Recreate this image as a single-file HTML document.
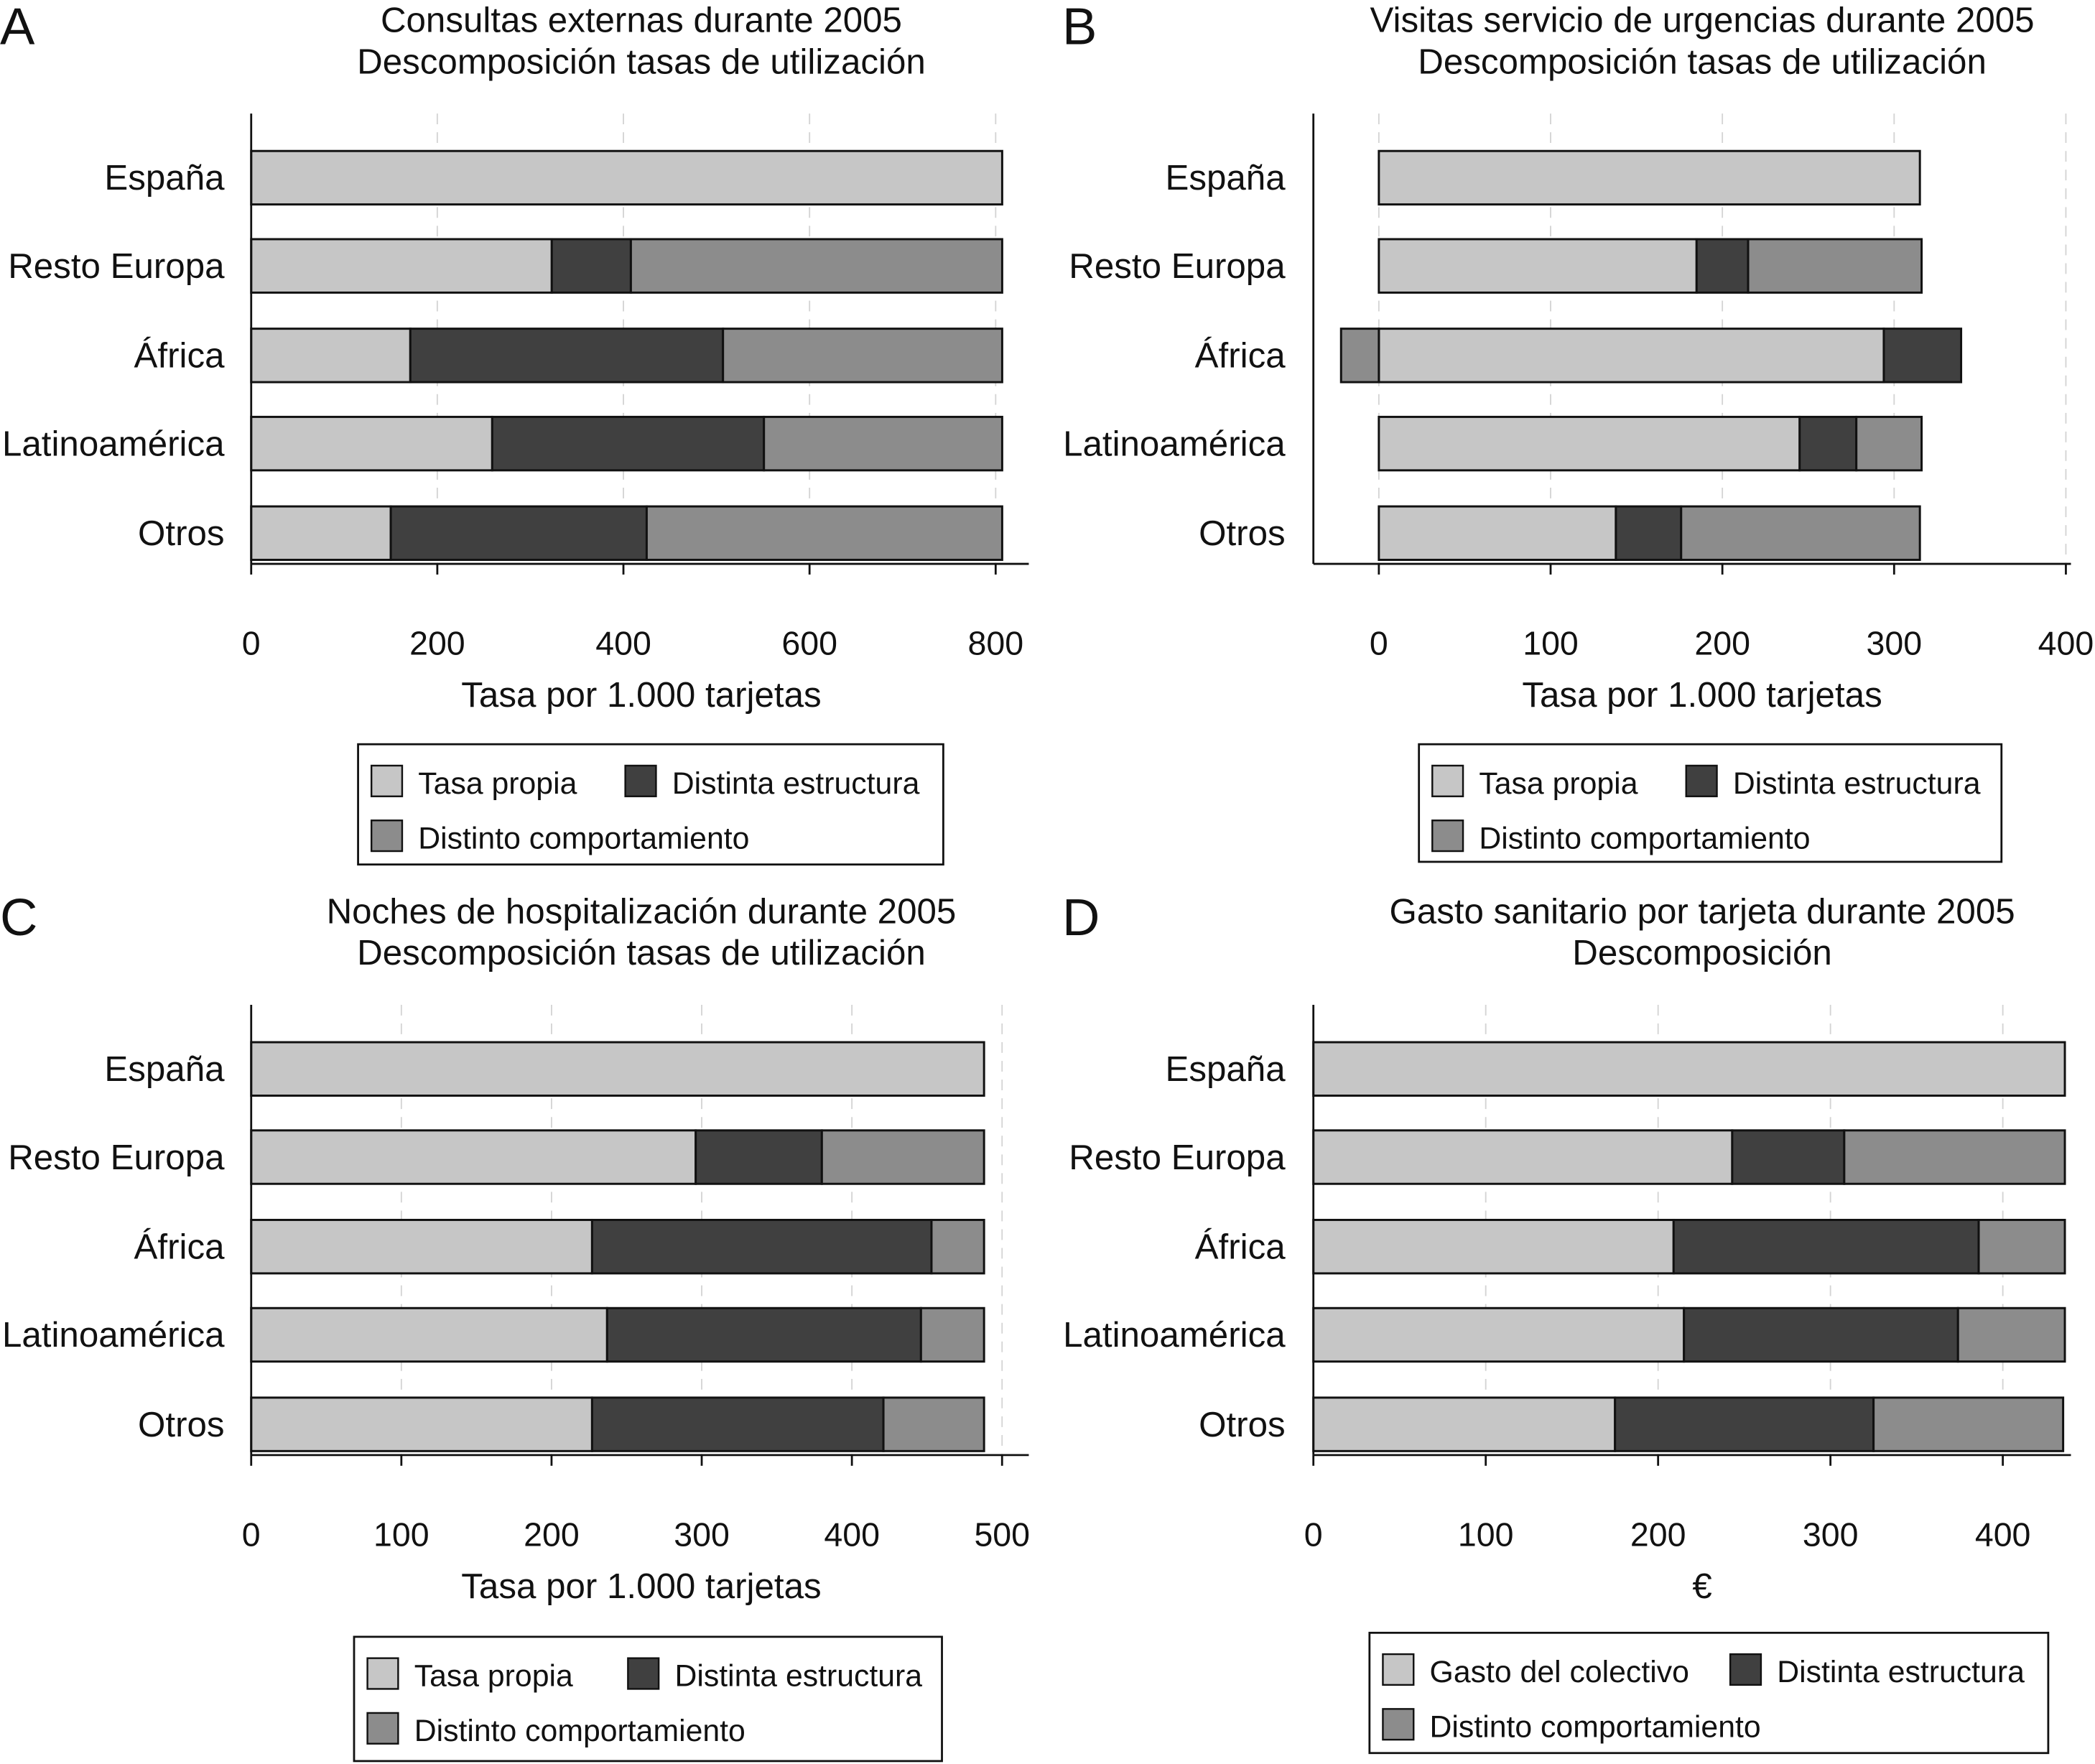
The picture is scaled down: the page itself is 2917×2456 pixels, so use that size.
<!DOCTYPE html>
<html><head><meta charset="utf-8"><style>
html,body{margin:0;padding:0;background:#fff}
svg{display:block}
text{font-family:"Liberation Sans",Arial,sans-serif;fill:#111}
</style></head><body>
<svg id="chart" width="2917" height="2456" viewBox="0 0 1568 1320.2" preserveAspectRatio="none" xmlns="http://www.w3.org/2000/svg"></svg>
<script>
const categories = ["España","Resto Europa","África","Latinoamérica","Otros"];
const seriesColors = ["#c6c6c6","#404040","#8c8c8c"];
// Panel A
const aPropia = [807,323,171,259,150];
const aEstructura = [0,85,336,292,275];
const aComport = [0,399,300,256,382];
const aTicks = [0,200,400,600,800];
// Panel B
const bPropia = [315,185,294,245,138];
const bEstructura = [0,30,45,33,38];
const bComport = [0,101,-22,38,139];
const bTicks = [0,100,200,300,400];
// Panel C
const cPropia = [488,296,227,237,227];
const cEstructura = [0,84,226,209,194];
const cComport = [0,108,35,42,67];
const cTicks = [0,100,200,300,400,500];
// Panel D
const dPropia = [436,243,209,215,175];
const dEstructura = [0,65,177,159,150];
const dComport = [0,128,50,62,110];
const dTicks = [0,100,200,300,400];

const NS="http://www.w3.org/2000/svg";
const svg=document.getElementById('chart');
function mk(tag,attrs,parent,txt){const e=document.createElementNS(NS,tag);for(const k in attrs)e.setAttribute(k,attrs[k]);if(txt!==undefined)e.textContent=txt;(parent||svg).appendChild(e);return e;}

function panel(cfg){
  const g=mk('g',{});
  
  
  const sx=v=>cfg.x0+(v-cfg.t0)*cfg.k;
  const T=cfg.top;
  const axisTop=T+85, axisBot=T+422;
  const centers=[133,199,266,332,399].map(c=>c+T);
  const L=mk('text',{x:cfg.letterX,y:T+33,'font-size':39},g,cfg.letter);
  
  
  cfg.title.forEach((t,i)=>{const e=mk('text',{x:cfg.titleX,y:T+24+i*31,'font-size':26.5,'text-anchor':'middle'},g,t);
    
    });
  cfg.ticks.forEach(t=>{const gl=mk('line',{x1:sx(t),x2:sx(t),y1:axisTop,y2:axisBot,stroke:'#d4d4d4','stroke-width':1,'stroke-dasharray':'8,6'},g);
    
    });
  const series=[cfg.p,cfg.e,cfg.c];
  categories.forEach((cat,i)=>{
    let pos=0,neg=0;
    series.forEach((arr,s)=>{
      const v=arr[i]; if(!v) return;
      let a,b; if(v>=0){a=pos;b=pos+v;pos=b;}else{a=neg+v;b=neg;neg=a;}
      const r=mk('rect',{x:sx(a),y:centers[i]-20,width:sx(b)-sx(a),height:40,fill:seriesColors[s],stroke:'#111','stroke-width':1.6},g);
      
      
    });
    const lb=mk('text',{x:168+cfg.labOff,y:centers[i]+9,'font-size':26.5,'text-anchor':'end'},g,cat);
    
    
  });
  const ya=mk('line',{x1:cfg.axisX,x2:cfg.axisX,y1:axisTop,y2:axisBot,stroke:'#111','stroke-width':1.5},g);
  
  
  const xa=mk('line',{x1:cfg.axisX,x2:cfg.axisEnd,y1:axisBot,y2:axisBot,stroke:'#111','stroke-width':1.5},g);
  
  
  cfg.ticks.forEach(t=>{
    mk('line',{x1:sx(t),x2:sx(t),y1:axisBot,y2:axisBot+8,stroke:'#111','stroke-width':1.5},g);
    const tl=mk('text',{x:sx(t),y:T+490,'font-size':25,'text-anchor':'middle'},g,t);
    
    
  });
  const xt=mk('text',{x:cfg.titleX,y:T+529,'font-size':26.5,'text-anchor':'middle'},g,cfg.xtitle);
  
  
  const lg=cfg.leg;
  const lgG=mk('g',{},g);
  
  
  mk('rect',{x:lg.x,y:T+lg.y,width:lg.w,height:lg.h,fill:'#fff',stroke:'#111','stroke-width':1.5},lgG);
  const items=[[lg.x+10,T+lg.y+16,cfg.names[0]],[lg.x+200+lg.dx,T+lg.y+16,cfg.names[1]],[lg.x+10,T+lg.y+57,cfg.names[2]]];
  items.forEach((it,s)=>{
    const sw=mk('rect',{x:it[0],y:it[1],width:23,height:23,fill:seriesColors[s],stroke:'#111','stroke-width':1.3},lgG);
    
    
    const tx=mk('text',{x:it[0]+35,y:it[1]+21,'font-size':23},lgG,it[2]);
    
    
  });
}
const n1=["Tasa propia","Distinta estructura","Distinto comportamiento"];
panel({letter:"A",letterX:0,top:0,titleX:480,x0:188,t0:0,k:0.6965,axisX:188,axisEnd:770,labOff:0,
  p:aPropia,e:aEstructura,c:aComport,ticks:aTicks,title:["Consultas externas durante 2005","Descomposición tasas de utilización"],
  xtitle:"Tasa por 1.000 tarjetas",names:n1,leg:{x:268,y:557,w:438,h:90,dx:0}});
panel({letter:"B",letterX:795,top:0,titleX:1274,x0:1032,t0:0,k:1.2855,axisX:983,axisEnd:1550,labOff:794,
  p:bPropia,e:bEstructura,c:bComport,ticks:bTicks,title:["Visitas servicio de urgencias durante 2005","Descomposición tasas de utilización"],
  xtitle:"Tasa por 1.000 tarjetas",names:n1,leg:{x:1062,y:557,w:436,h:88,dx:0}});
panel({letter:"C",letterX:0,top:667,titleX:480,x0:188,t0:0,k:1.124,axisX:188,axisEnd:770,labOff:0,
  p:cPropia,e:cEstructura,c:cComport,ticks:cTicks,title:["Noches de hospitalización durante 2005","Descomposición tasas de utilización"],
  xtitle:"Tasa por 1.000 tarjetas",names:n1,leg:{x:265,y:558,w:440,h:93,dx:5}});
panel({letter:"D",letterX:795,top:667,titleX:1274,x0:983,t0:0,k:1.29,axisX:983,axisEnd:1550,labOff:794,
  p:dPropia,e:dEstructura,c:dComport,ticks:dTicks,title:["Gasto sanitario por tarjeta durante 2005","Descomposición"],
  xtitle:"€",names:["Gasto del colectivo","Distinta estructura","Distinto comportamiento"],leg:{x:1025,y:555,w:508,h:90,dx:70}});
</script>
</body></html>
